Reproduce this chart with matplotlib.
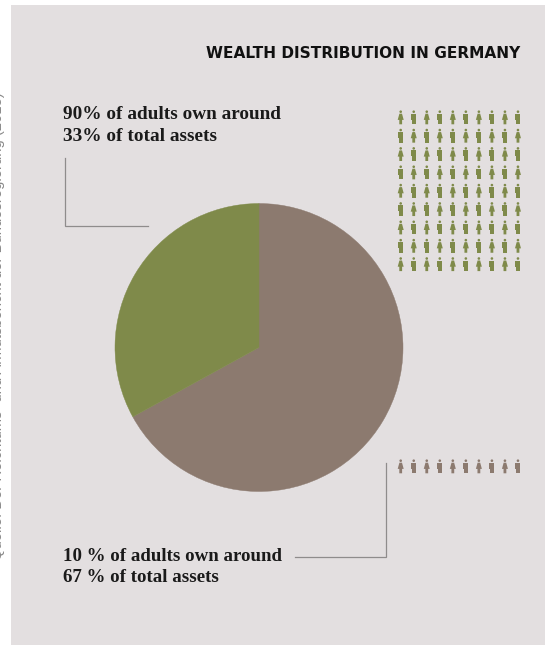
#!/usr/bin/env python3
"""Wealth distribution in Germany: pie chart with pictogram rows of adults."""

import matplotlib
matplotlib.use("Agg")
import matplotlib.pyplot as plt
from matplotlib.patches import Circle, Polygon, Rectangle

W, H = 548, 645

SHARES = [67, 33]
SHARE_COLORS = ["#8c7a6f", "#7f8a4a"]
ADULT_ROWS = [9, 1]
ADULT_COLS = 10

TITLE = "WEALTH DISTRIBUTION IN GERMANY"
LABEL_MAJORITY = "90% of adults own around\n33% of total assets"
LABEL_MINORITY = "10 % of adults own around\n67 % of total assets"
SOURCE = "Quelle: Der Reichtums- und Armutsbericht der Bundesregierung (2013)"

PANEL = "#e3dfe0"
LINE = "#8f8c8c"
INK = "#1a1a1a"
SERIF = ["Liberation Serif", "DejaVu Serif"]
SANS = ["DejaVu Sans"]


def person(ax, x, y, color, skirt):
    """One pictogram adult, with its feet at y and 14 px tall."""
    ax.add_patch(Circle((x, y - 12.6), 1.3, fc=color, ec="none"))
    if skirt:
        body = [(x - 1.3, y - 10.6), (x + 1.3, y - 10.6), (x + 3, y - 4.4),
                (x + 1.4, y - 4.4), (x + 1.4, y), (x - 1.4, y),
                (x - 1.4, y - 4.4), (x - 3, y - 4.4)]
    else:
        body = [(x - 2.5, y - 10.6), (x + 2.5, y - 10.6), (x + 2.5, y - 4.6),
                (x + 2, y - 4.6), (x + 2, y), (x - 2, y),
                (x - 2, y - 4.6), (x - 2.5, y - 4.6)]
    ax.add_patch(Polygon(body, closed=True, fc=color, ec="none"))


def pictograms(ax, feet, rows, color):
    for r in range(rows):
        for c in range(ADULT_COLS):
            person(ax, 400.7 + c * 13.03, feet + r * 18.35, color, (r + c) % 2 == 0)


def main():
    fig = plt.figure(figsize=(W / 100, H / 100), dpi=100, facecolor="white")
    ax = fig.add_axes([0, 0, 1, 1])
    ax.set_xlim(0, W)
    ax.set_ylim(H, 0)
    ax.axis("off")

    ax.add_patch(Rectangle((11, 5), 534, 640, fc=PANEL, ec="none"))

    # the pie starts at 12 o'clock and runs clockwise
    pie_ax = fig.add_axes([115 / W, 1 - 491.5 / H, 288 / W, 288 / H])
    wedges, _ = pie_ax.pie(SHARES, colors=SHARE_COLORS, startangle=90,
                           counterclock=False, radius=1.0)
    for wedge in wedges:
        wedge.set_edgecolor(wedge.get_facecolor())
        wedge.set_linewidth(0.3)
    pie_ax.set_xlim(-1, 1)
    pie_ax.set_ylim(-1, 1)

    ax.text(520, 54, TITLE, ha="right", va="center", family=SANS,
            fontsize=11.1, fontweight="bold", color="#111111")
    ax.text(63, 125.5, LABEL_MAJORITY, ha="left", va="center", family=SERIF,
            fontsize=13.9, fontweight="bold", color=INK, linespacing=1.35)
    ax.text(63, 567, LABEL_MINORITY, ha="left", va="center", family=SERIF,
            fontsize=13.6, fontweight="bold", color=INK, linespacing=1.35)

    # leader lines from the labels towards the pie and the bottom pictograms
    ax.plot([65, 65, 148], [158, 225.5, 225.5], color=LINE, lw=0.9,
            solid_joinstyle="miter")
    ax.plot([295, 386, 386], [556.5, 556.5, 463], color=LINE, lw=0.9,
            solid_joinstyle="miter")

    pictograms(ax, 124.3, ADULT_ROWS[0], SHARE_COLORS[1])
    pictograms(ax, 473.3, ADULT_ROWS[1], SHARE_COLORS[0])

    # the source line runs up the left edge and is clipped by the page
    ax.text(1.9, 326.5, SOURCE, rotation=90, ha="center", va="baseline",
            rotation_mode="anchor", family=["Liberation Sans", "DejaVu Sans"],
            fontsize=10.6, color="#8a8a8a")

    fig.savefig("out.png", dpi=100)


if __name__ == "__main__":
    main()
